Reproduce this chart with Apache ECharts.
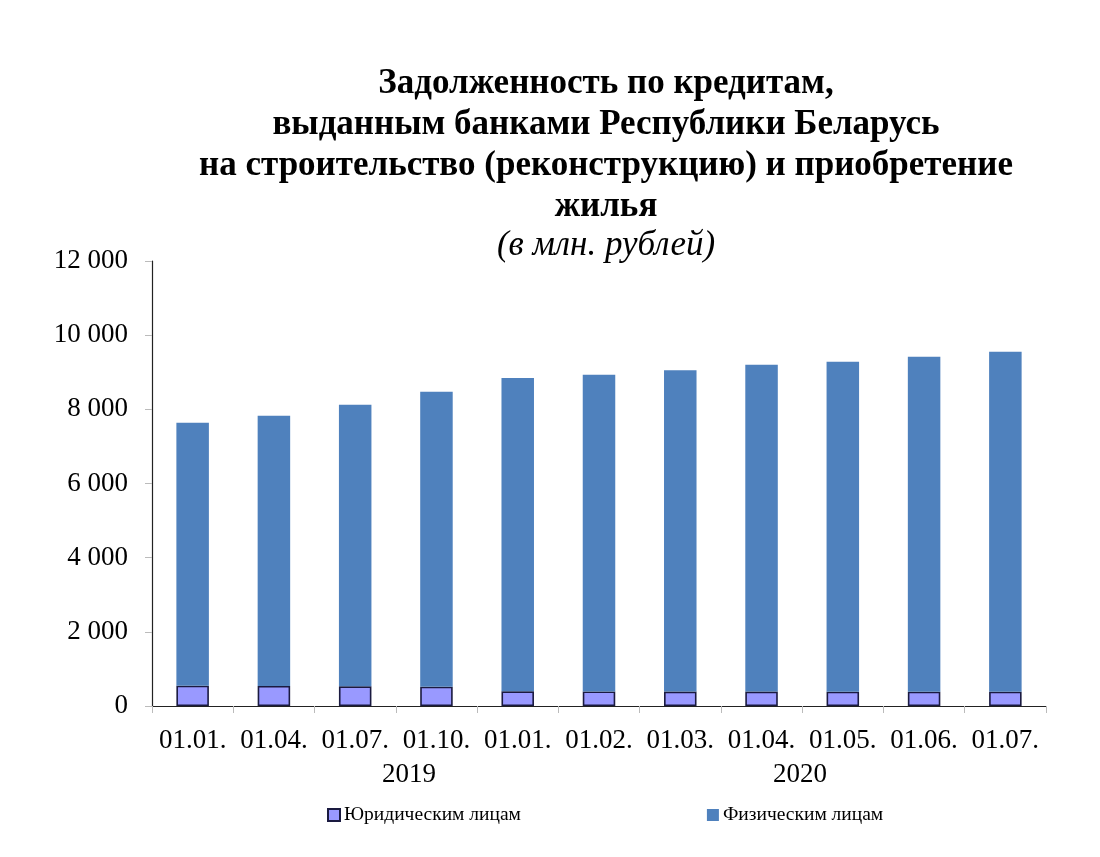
<!DOCTYPE html>
<html>
<head>
<meta charset="utf-8">
<script src="https://cdn.jsdelivr.net/npm/echarts@6/dist/echarts.min.js"></script>
<style>html,body{margin:0;padding:0;background:#fff}#c{width:1100px;height:857px}</style>
</head>
<body>
<div id="c"></div>
<script>
const categories = ['01.01.', '01.04.', '01.07.', '01.10.', '01.01.', '01.02.', '01.03.', '01.04.', '01.05.', '01.06.', '01.07.'];
const years = ['2019', '2020'];
const legalValues = [548, 540, 530, 520, 396, 392, 390, 388, 386, 385, 384];
const physicalValues = [7092, 7289, 7596, 7956, 8450, 8543, 8663, 8817, 8900, 9036, 9171];
const seriesNames = ['Юридическим лицам', 'Физическим лицам'];

const serif = '"Liberation Serif", "Times New Roman", serif';
const chart = echarts.init(document.getElementById('c'));
chart.setOption({
  backgroundColor: '#ffffff',
  animation: false,
  title: {
    text: 'Задолженность по кредитам,\nвыданным банками Республики Беларусь\nна строительство (реконструкцию) и приобретение\nжилья',
    subtext: '(в млн. рублей)',
    left: 601,
    textAlign: 'center',
    top: 58,
    itemGap: 0,
    textStyle: { fontFamily: serif, fontWeight: 'bold', fontSize: 35, lineHeight: 41, color: '#000' },
    subtextStyle: { fontFamily: serif, fontStyle: 'italic', fontSize: 35, lineHeight: 38, color: '#000' }
  },
  legend: {
    data: seriesNames,
    top: 805,
    left: 327,
    padding: 0,
    itemGap: 186,
    itemWidth: 12,
    itemHeight: 12,
    icon: 'rect',
    textStyle: { fontFamily: serif, fontSize: 19.5, color: '#000', padding: [0, 0, 0, -1] }
  },
  grid: { left: 152, right: 54, top: 261, bottom: 151, containLabel: false },
  xAxis: {
    type: 'category',
    data: categories,
    boundaryGap: true,
    axisLine: { lineStyle: { color: '#222', width: 1.2 } },
    axisTick: { show: true, alignWithLabel: false, length: 7, inside: false, lineStyle: { color: '#bbb' } },
    axisLabel: { fontFamily: serif, fontSize: 27, color: '#000', margin: 21, interval: 0 }
  },
  yAxis: {
    type: 'value',
    min: 0,
    max: 12000,
    interval: 2000,
    axisLine: { show: true, lineStyle: { color: '#222', width: 1.2 } },
    axisTick: { show: true, length: 7, lineStyle: { color: '#bbb' } },
    splitLine: { show: false },
    axisLabel: {
      fontFamily: serif, fontSize: 27, color: '#000', margin: 24,
      formatter: v => v === 0 ? '0' : String(v).replace(/\B(?=(\d{3})+(?!\d))/g, ' ')
    }
  },
  graphic: [
    { type: 'text', left: 382, top: 761, style: { text: years[0], font: '27px ' + serif, fill: '#000' } },
    { type: 'text', left: 773, top: 761, style: { text: years[1], font: '27px ' + serif, fill: '#000' } }
  ],
  series: [
    {
      name: seriesNames[0], type: 'bar', stack: 'total', data: legalValues, barWidth: '40%',
      itemStyle: { color: '#9999FF', borderColor: '#1a1a40', borderWidth: 1.6 }
    },
    {
      name: seriesNames[1], type: 'bar', stack: 'total', data: physicalValues, barWidth: '40%',
      itemStyle: { color: '#4F81BD' }
    }
  ]
});
</script>
</body>
</html>
